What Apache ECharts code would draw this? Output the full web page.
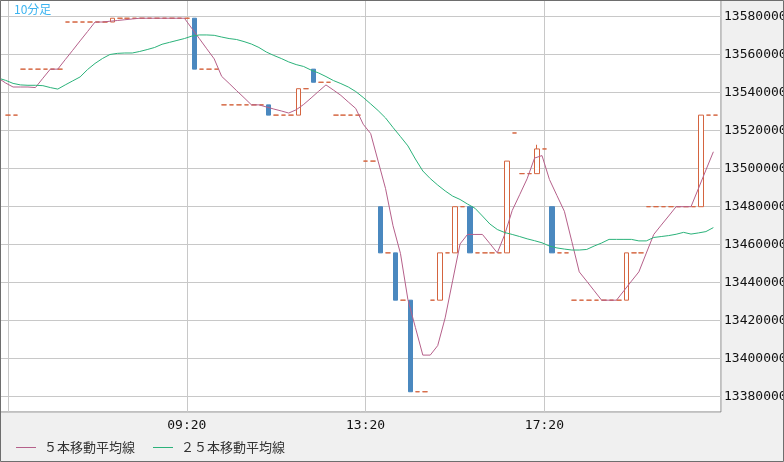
<!DOCTYPE html>
<html><head><meta charset="utf-8">
<script src="https://cdn.jsdelivr.net/npm/echarts@6/dist/echarts.min.js"></script>
<style>html,body{margin:0;padding:0;background:#f0f0f0}#c{width:784px;height:462px}</style>
</head><body><div id="c"></div>
<script>
// 10-minute bars; index 0 (05:10) only carries moving-average values
const times = ['05:10','05:20','05:30','05:40','05:50',
 '06:00','06:10','06:20','06:30','06:40','06:50','07:00','07:10','07:20','07:30','07:40','07:50',
 '08:00','08:10','08:20','08:30','08:40','08:50','09:00','09:10','09:20','09:30','09:40','09:50',
 '10:00','10:10','10:20','10:30','10:40','10:50','11:00','11:10','11:20','11:30','11:40','11:50',
 '12:00','12:10','12:20','12:30','12:40','12:50','13:00','13:10','13:20','13:30','13:40','13:50',
 '14:00','14:10','14:20','14:30','14:40','14:50','15:00','15:10','15:20','15:30','15:40','15:50',
 '16:00','16:10','16:20','16:30','16:40','16:50','17:00','17:10','17:20','17:30','17:40','17:50',
 '18:00','18:10','18:20','18:30','18:40','18:50','19:00','19:10','19:20','19:30','19:40','19:50',
 '20:00','20:10','20:20','20:30','20:40','20:50','21:00','21:10'];

const openP = [null,
 13528200,13528200,13552400,13552400,13552400,13552400,13552400,13552400,13577200,13577200,
 13577200,13577200,13577200,13577200,13577200,13579200,13579200,13579200,13579200,13579200,
 13579200,13579200,13579200,13579200,13579200,13579200,13552400,13552400,13552400,13533600,
 13533600,13533600,13533600,13533600,13533600,13533600,13528200,13528200,13528200,13528200,
 13542100,13552400,13545500,13545500,13528200,13528200,13528200,13528200,13504000,13504000,
 13480000,13455700,13455700,13430800,13430800,13382600,13382600,13430800,13430800,13455700,
 13455700,13480000,13480000,13455700,13455700,13455700,13455700,13455700,13518800,13497400,
 13497400,13497400,13510400,13480000,13455700,13455700,13430800,13430800,13430800,13430800,
 13430800,13430800,13430800,13430800,13455700,13455700,13480000,13480000,13480000,13480000,
 13480000,13480000,13480000,13480000,13528200,13528200];

const closeP = [null,
 13528200,13528200,13552400,13552400,13552400,13552400,13552400,13552400,13577200,13577200,
 13577200,13577200,13577200,13577200,13579200,13579200,13579200,13579200,13579200,13579200,
 13579200,13579200,13579200,13579200,13579200,13552400,13552400,13552400,13552400,13533600,
 13533600,13533600,13533600,13533600,13533600,13528200,13528200,13528200,13528200,13542100,
 13542100,13545500,13545500,13545500,13528200,13528200,13528200,13528200,13504000,13504000,
 13455700,13455700,13430800,13430800,13382600,13382600,13382600,13430800,13455700,13455700,
 13480000,13480000,13455700,13455700,13455700,13455700,13455700,13504000,13518800,13497400,
 13497400,13510400,13510400,13455700,13455700,13455700,13430800,13430800,13430800,13430800,
 13430800,13430800,13430800,13455700,13455700,13455700,13480000,13480000,13480000,13480000,
 13480000,13480000,13480000,13528200,13528200,13528200];

const lowP = [null,
 13528200,13528200,13552400,13552400,13552400,13552400,13552400,13552400,13577200,13577200,
 13577200,13577200,13577200,13577200,13577200,13579200,13579200,13579200,13579200,13579200,
 13579200,13579200,13579200,13579200,13579200,13552400,13552400,13552400,13552400,13533600,
 13533600,13533600,13533600,13533600,13533600,13528200,13528200,13528200,13528200,13528200,
 13542100,13545500,13545500,13545500,13528200,13528200,13528200,13528200,13504000,13504000,
 13455700,13455700,13430800,13430800,13382600,13382600,13382600,13430800,13430800,13455700,
 13455700,13480000,13455700,13455700,13455700,13455700,13455700,13455700,13518800,13497400,
 13497400,13497400,13510400,13455700,13455700,13455700,13430800,13430800,13430800,13430800,
 13430800,13430800,13430800,13430800,13455700,13455700,13480000,13480000,13480000,13480000,
 13480000,13480000,13480000,13480000,13528200,13528200];

const highP = [null,
 13528200,13528200,13552400,13552400,13552400,13552400,13552400,13552400,13577200,13577200,
 13577200,13577200,13577200,13577200,13579200,13579200,13579200,13579200,13579200,13579200,
 13579200,13579200,13579200,13579200,13579200,13579200,13552400,13552400,13552400,13533600,
 13533600,13533600,13533600,13533600,13533600,13533600,13528200,13528200,13528200,13542100,
 13542100,13552400,13545500,13545500,13528200,13528200,13528200,13528200,13504000,13504000,
 13480000,13455700,13455700,13430800,13430800,13382600,13382600,13430800,13455700,13455700,
 13480000,13480000,13480000,13455700,13455700,13455700,13455700,13504000,13518800,13497400,
 13497400,13512600,13510400,13480000,13455700,13455700,13430800,13430800,13430800,13430800,
 13430800,13430800,13430800,13455700,13455700,13455700,13480000,13480000,13480000,13480000,
 13480000,13480000,13480000,13528200,13528200,13528200];

const ma5 = [13547700,
 13545100,13543000,13543000,13543000,13542700,13547600,13552400,13552400,13557400,13562300,
 13567300,13572200,13577200,13577200,13577600,13578000,13578400,13578800,13579200,13579200,
 13579200,13579200,13579200,13579200,13579200,13573800,13568500,13563100,13557800,13548600,
 13544900,13541100,13537400,13533600,13533600,13532500,13531400,13530400,13529300,13531000,
 13533800,13537200,13540700,13544100,13541400,13538600,13535100,13531700,13523400,13518500,
 13504000,13489500,13470000,13455400,13431100,13416500,13401900,13401900,13406900,13421500,
 13441000,13460400,13465400,13465400,13465400,13460600,13455700,13465400,13478000,13486300,
 13494700,13505600,13506900,13494300,13485900,13477600,13461700,13445700,13440800,13435800,
 13430800,13430800,13430800,13435800,13440800,13445700,13455600,13465400,13470300,13475100,
 13480000,13480000,13480000,13489600,13499300,13508900];

const ma25 = [13547700,
 13546500,13544900,13544100,13543900,13543900,13543700,13542700,13541900,13544100,13546200,
 13548300,13552200,13555400,13558000,13560100,13560700,13560900,13560900,13561700,13562700,
 13563800,13565500,13566500,13567500,13568500,13569800,13570400,13570400,13570200,13569300,
 13568500,13568000,13566900,13565600,13563800,13561400,13559600,13558000,13556200,13554800,
 13553800,13551900,13550400,13548500,13546400,13544800,13543000,13540600,13537500,13534100,
 13530600,13526700,13521700,13516900,13512000,13505100,13498800,13494800,13491400,13488300,
 13485600,13483800,13481400,13479200,13475100,13470900,13468000,13466400,13465400,13464300,
 13463100,13462100,13461000,13459300,13458300,13457700,13457200,13457200,13457500,13459300,
 13460900,13462800,13462800,13462800,13462800,13462000,13462000,13463800,13464300,13464800,
 13465500,13466500,13465600,13466200,13466900,13469000];

const seriesNames = ['５本移動平均線', '２５本移動平均線'];
const titleText = '10分足';

const UP = '#d4643f', DOWN = '#4a88bf', MA5C = '#b5608a', MA25C = '#2bb27a';

const candleData = [];
for (let i = 0; i < times.length; i++) {
  if (openP[i] == null) continue;
  candleData.push([i - 1, openP[i], closeP[i], lowP[i], highP[i]]);
}
const ma5Data = ma5.map((v, i) => [i - 1, v]);
const ma25Data = ma25.map((v, i) => [i - 1, v]);

const X_MIN = -1.074, X_MAX = 95.705, LINE_SHIFT = 0.32;
const chart = echarts.init(document.getElementById('c'));
chart.setOption({
  animation: false,
  backgroundColor: '#f0f0f0',
  title: {
    text: titleText, left: 14, top: 3, padding: 0,
    textStyle: { fontSize: 12, color: '#3cb4f0', fontWeight: 'normal', fontFamily: 'Noto Sans CJK JP' }
  },
  legend: {
    data: seriesNames, left: 16, top: 441, padding: 0, itemGap: 18,
    icon: 'rect', itemWidth: 20, itemHeight: 1,
    textStyle: { fontSize: 13, color: '#333', fontFamily: 'Noto Sans CJK JP', padding: [0, 0, 0, 3] }
  },
  grid: {
    left: 0, top: 0, width: 721, height: 412, show: true,
    outerBoundsMode: 'none', containLabel: false,
    backgroundColor: '#ffffff', borderColor: '#808080', borderWidth: 1
  },
  xAxis: [{
    type: 'value', min: X_MIN, max: X_MAX, minInterval: 24, maxInterval: 24,
    axisLine: { show: false }, axisTick: { show: false },
    splitLine: { show: true, lineStyle: { color: '#c8c8c8', width: 1 } },
    axisLabel: {
      show: true, margin: 7, showMinLabel: false, showMaxLabel: false,
      color: '#111', fontSize: 13, fontFamily: 'DejaVu Sans Mono',
      formatter: v => (v > 0 && Number.isInteger(v)) ? times[v + 1] : ''
    }
  }, {
    type: 'value', min: X_MIN + LINE_SHIFT, max: X_MAX + LINE_SHIFT, show: false
  }],
  yAxis: {
    type: 'value', position: 'right', min: 13371950, max: 13588790,
    minInterval: 20000, maxInterval: 20000, splitNumber: 10,
    axisLine: { show: false }, axisTick: { show: false },
    splitLine: { show: true, lineStyle: { color: '#c8c8c8', width: 1 } },
    axisLabel: {
      margin: 3, showMinLabel: false, showMaxLabel: false,
      color: '#111', fontSize: 13, fontFamily: 'DejaVu Sans Mono',
      formatter: v => String(v)
    }
  },
  graphic: [{
    type: 'rect', silent: true, z: 100,
    shape: { x: 0.5, y: 0.5, width: 783, height: 461 },
    style: { fill: 'none', stroke: '#6e6e6e', lineWidth: 1 }
  }],
  series: [{
    type: 'candlestick', name: 'price', xAxisIndex: 0,
    data: candleData, encode: { x: 0, y: [1, 2, 3, 4] },
    barWidth: 5,
    itemStyle: {
      color: '#ffffff', color0: DOWN, borderColor: UP, borderColor0: DOWN,
      borderColorDoji: UP, borderWidth: 1
    },
    z: 2
  }, {
    type: 'line', name: seriesNames[0], xAxisIndex: 1, data: ma5Data,
    symbol: 'none', color: MA5C, lineStyle: { width: 1, color: MA5C }, z: 3
  }, {
    type: 'line', name: seriesNames[1], xAxisIndex: 1, data: ma25Data,
    symbol: 'none', color: MA25C, lineStyle: { width: 1, color: MA25C }, z: 3
  }]
});
</script></body></html>
